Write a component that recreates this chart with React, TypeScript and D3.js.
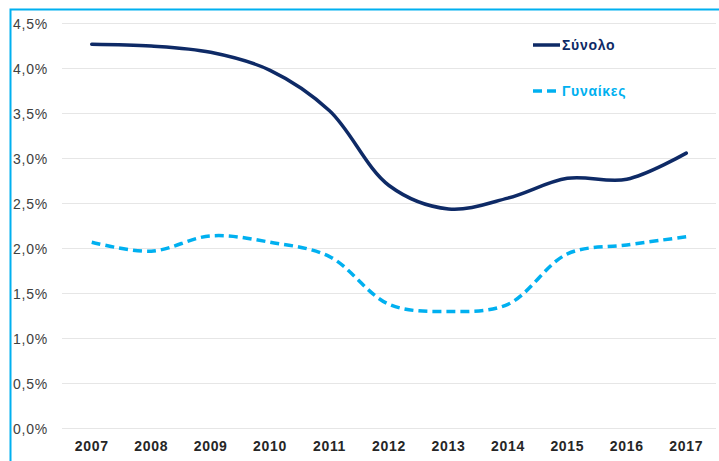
import React from "react";
import * as d3 from "d3";

const years = ["2007", "2008", "2009", "2010", "2011", "2012", "2013", "2014", "2015", "2016", "2017"];
const totalValues = [4.27, 4.25, 4.18, 3.98, 3.53, 2.7, 2.44, 2.56, 2.78, 2.77, 3.06];
const womenValues = [2.07, 1.97, 2.14, 2.07, 1.91, 1.38, 1.3, 1.38, 1.94, 2.04, 2.13];
const yTicks = [0, 0.5, 1, 1.5, 2, 2.5, 3, 3.5, 4, 4.5];

const W = 719;
const H = 461;
const margin = { top: 23.5, right: 3, bottom: 32.5, left: 62 };
const NAVY = "#0e2a66";
const LIGHT = "#00b0f0";
const FONT = "'Liberation Sans', Arial, sans-serif";

function App() {
  const ref = React.useRef<SVGSVGElement>(null);

  React.useEffect(() => {
    const svg = d3.select(ref.current);
    svg.selectAll("*").remove();

    const x = d3
      .scaleBand()
      .domain(years)
      .range([margin.left, W - margin.right]);
    const y = d3
      .scaleLinear()
      .domain([0, 4.5])
      .range([H - margin.bottom, margin.top]);
    const cx = (d: string) => (x(d) as number) + x.bandwidth() / 2;

    // frame
    svg
      .append("path")
      .attr("d", `M10.5,${H} V9.5 H${W}`)
      .attr("fill", "none")
      .attr("stroke", LIGHT)
      .attr("stroke-width", 2);

    // grid
    svg
      .append("g")
      .selectAll("line")
      .data(yTicks)
      .join("line")
      .attr("x1", margin.left)
      .attr("x2", W - margin.right)
      .attr("y1", (d) => y(d))
      .attr("y2", (d) => y(d))
      .attr("stroke", "#e6e6e6")
      .attr("stroke-width", 1);

    svg
      .append("g")
      .selectAll("text")
      .data(yTicks)
      .join("text")
      .attr("x", 13)
      .attr("y", (d) => y(d) + 1)
      .attr("dy", "0.35em")
      .attr("font-family", FONT)
      .attr("font-size", 14)
      .attr("letter-spacing", 0.8)
      .attr("fill", "#404040")
      .text((d) => d3.format(".1f")(d).replace(".", ",") + "%");

    svg
      .append("g")
      .selectAll("text")
      .data(years)
      .join("text")
      .attr("x", cx)
      .attr("y", 451)
      .attr("text-anchor", "middle")
      .attr("font-family", FONT)
      .attr("font-size", 14)
      .attr("letter-spacing", 0.7)
      .attr("font-weight", "bold")
      .attr("fill", "#262626")
      .text((d) => d);

    const line = d3
      .line<number>()
      .x((_, i) => cx(years[i]))
      .y((d) => y(d))
      .curve(d3.curveCatmullRom.alpha(0.5));

    svg
      .append("path")
      .datum(womenValues)
      .attr("fill", "none")
      .attr("stroke", LIGHT)
      .attr("stroke-width", 3.5)
      .attr("stroke-dasharray", "9,5")
      .attr("d", line);

    svg
      .append("path")
      .datum(totalValues)
      .attr("fill", "none")
      .attr("stroke", NAVY)
      .attr("stroke-width", 3.5)
      .attr("stroke-linecap", "round")
      .attr("d", line);

    // legend
    const legend = [
      { label: "Σύνολο", color: NAVY, dash: null, y: 45 },
      { label: "Γυναίκες", color: LIGHT, dash: "9,5", y: 91 },
    ];
    const lg = svg.append("g").selectAll("g").data(legend).join("g");
    lg.append("line")
      .attr("x1", 533)
      .attr("x2", 560)
      .attr("y1", (d) => d.y)
      .attr("y2", (d) => d.y)
      .attr("stroke", (d) => d.color)
      .attr("stroke-width", 3.5)
      .attr("stroke-dasharray", (d) => d.dash);
    lg.append("text")
      .attr("x", 562)
      .attr("y", (d) => d.y)
      .attr("dy", "0.35em")
      .attr("font-family", FONT)
      .attr("font-size", 14)
      .attr("letter-spacing", 0.7)
      .attr("font-weight", "bold")
      .attr("fill", (d) => d.color)
      .text((d) => d.label);
  }, []);

  return (
    <svg
      ref={ref}
      width={W}
      height={H}
      style={{ position: "absolute", left: 0, top: 0, background: "#fff" }}
    />
  );
}

export default App;
